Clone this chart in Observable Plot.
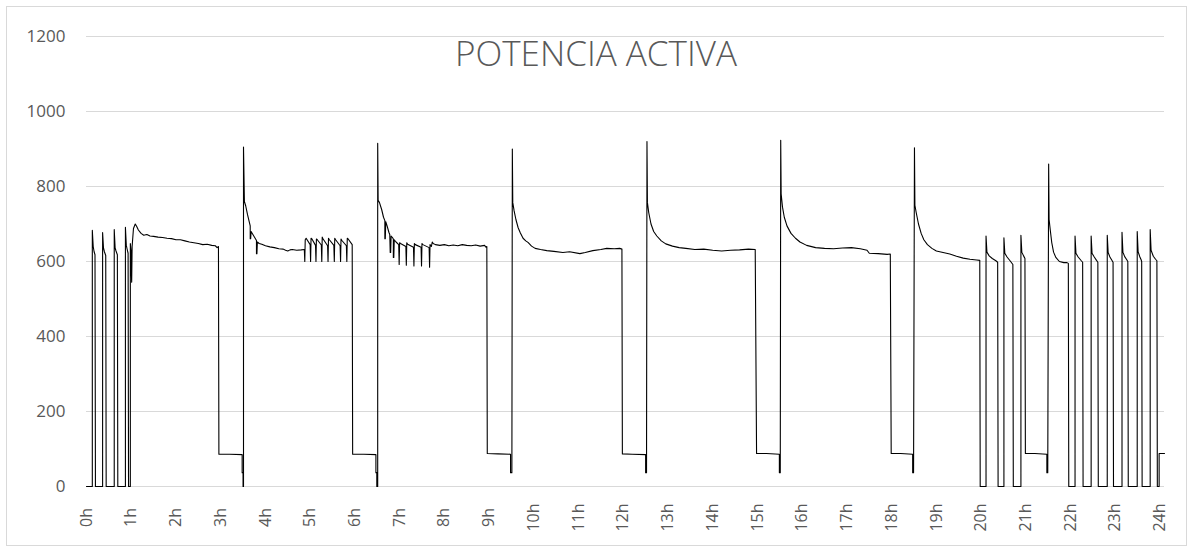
<!DOCTYPE html>
<html><head><meta charset="utf-8">
<script src="https://cdn.jsdelivr.net/npm/d3@7"></script>
<script src="https://cdn.jsdelivr.net/npm/@observablehq/plot@0.6"></script>
<style>
body{margin:0;background:#fff;}
#wrap{position:relative;width:1192px;height:551px;overflow:hidden;background:#fff;}
#border{position:absolute;left:6px;top:6px;width:1181px;height:540px;box-sizing:border-box;border:1px solid #d9d9d9;pointer-events:none;}
#title{position:absolute;left:0;top:35px;width:1192px;text-align:center;font:300 35px/35px "Open Sans";color:#595959;}
</style></head><body>
<div id="wrap"><div id="chart"></div><div id="border"></div><div id="title">POTENCIA ACTIVA</div></div>
<script>
// [hour, value] pairs, one array per cycle
const cycle00h = [[0,0],[0.13,0],[0.13,683],[0.15,640],[0.17,626],[0.19,618],[0.20,0],
  [0.36,0],[0.36,677],[0.38,636],[0.40,626],[0.43,616],[0.44,0],
  [0.62,0],[0.62,685],[0.64,636],[0.66,628],[0.69,618],[0.70,0],
  [0.87,0],[0.87,691],[0.89,643],[0.91,632],[0.93,622],[0.94,0],
  [0.98,0],[0.98,648],[0.995,629],[1.0,580],[1.01,545],[1.02,640],[1.05,688],[1.09,700],[1.12,694],[1.16,684],
  [1.22,675],[1.28,670],[1.35,672],[1.42,668],[1.5,667],[1.6,665],[1.7,664],[1.8,662],[1.9,661],[2.0,658],
  [2.1,658],[2.2,655],[2.3,652],[2.4,650],[2.5,648],[2.6,645],[2.7,646],[2.8,643],[2.88,642],[2.92,637],[2.95,640]];
const cycle03h = [[2.96,86],[3.2,86],[3.48,85],[3.48,37],[3.50,37],[3.50,0],[3.51,0],[3.51,905],
  [3.53,760],[3.56,748],[3.60,725],[3.64,705],[3.66,695],[3.66,661],[3.67,661],[3.68,680],[3.72,672],[3.76,664],
  [3.80,656],[3.80,621],[3.81,621],[3.82,652],[3.86,648],[3.92,646],[4.0,642],[4.1,639],[4.2,637],[4.3,634],
  [4.4,633],[4.45,630],[4.5,628],[4.55,631],[4.6,632],[4.7,630],[4.8,631],[4.87,632],
  [4.88,600],[4.89,658],[4.91,662],[5.0,645],[5.01,600],[5.02,662],[5.04,660],[5.12,643],[5.13,600],[5.14,660],
  [5.16,658],[5.25,644],[5.26,600],[5.27,665],[5.29,660],[5.39,642],[5.40,600],[5.41,662],[5.43,658],[5.53,643],
  [5.54,600],[5.55,662],[5.57,658],[5.67,642],[5.68,600],[5.69,660],[5.71,656],[5.81,642],[5.82,600],[5.83,662],
  [5.85,660],[5.94,645]];
const cycle06h = [[5.95,86],[6.2,86],[6.47,85],[6.47,37],[6.49,37],[6.49,0],[6.51,0],[6.51,915],
  [6.52,763],[6.55,757],[6.60,738],[6.64,718],[6.67,709],[6.67,661],[6.68,661],[6.69,706],[6.72,695],[6.76,678],
  [6.78,672],[6.79,624],[6.80,624],[6.81,668],[6.84,664],[6.86,660],[6.86,611],[6.87,611],[6.88,658],[6.92,652],
  [6.98,645],[6.99,592],[7.0,650],[7.02,648],[7.14,640],[7.15,590],[7.16,650],[7.18,646],[7.31,638],[7.32,588],
  [7.33,648],[7.35,645],[7.48,638],[7.49,588],[7.50,648],[7.52,645],[7.66,637],[7.67,585],[7.68,645],[7.71,640],
  [7.73,652],[7.75,648],[7.8,645],[7.9,643],[8.0,645],[8.1,642],[8.2,644],[8.3,642],[8.4,645],[8.5,643],
  [8.6,642],[8.7,644],[8.8,641],[8.9,643],[8.93,638],[8.95,640]];
const cycle09h = [[8.96,88],[9.2,87],[9.48,86],[9.48,37],[9.51,37],[9.52,900],
  [9.53,757],[9.56,735],[9.6,712],[9.65,690],[9.7,676],[9.76,662],[9.82,655],[9.87,651],[9.95,641],[10.03,635],
  [10.15,632],[10.29,629],[10.45,627],[10.65,624],[10.8,626],[11.03,621],[11.15,624],[11.32,629],[11.5,632],
  [11.63,635],[11.8,634],[11.92,635],[11.97,633]];
const cycle12h = [[11.98,87],[12.2,86],[12.5,85],[12.5,37],[12.52,37],[12.53,920],
  [12.54,757],[12.57,730],[12.62,700],[12.68,680],[12.75,668],[12.85,655],[12.95,647],[13.1,641],[13.25,637],
  [13.4,635],[13.6,632],[13.8,633],[14.0,630],[14.2,628],[14.4,630],[14.6,631],[14.8,633],[14.95,632]];
const cycle15h = [[14.98,88],[15.2,88],[15.49,86],[15.49,37],[15.51,37],[15.52,923],
  [15.53,780],[15.56,745],[15.6,718],[15.66,695],[15.75,675],[15.85,662],[15.95,652],[16.1,643],[16.3,637],
  [16.5,635],[16.7,634],[16.9,636],[17.1,637],[17.3,634],[17.45,630],[17.5,622],[17.7,621],[17.9,619],[17.97,620]];
const cycle18h = [[17.99,88],[18.2,88],[18.47,86],[18.47,37],[18.49,37],[18.51,903],
  [18.52,750],[18.55,730],[18.6,700],[18.66,675],[18.72,658],[18.8,645],[18.9,635],[19.0,628],[19.15,624],
  [19.3,620],[19.45,614],[19.6,609],[19.75,606],[19.9,604],[19.97,603],[19.98,0],
  [20.11,0],[20.11,668],[20.13,625],[20.18,615],[20.25,608],[20.33,602],[20.37,598],[20.38,0],
  [20.51,0],[20.51,663],[20.53,622],[20.58,612],[20.66,600],[20.71,592],[20.72,0],
  [20.89,0],[20.89,670],[20.91,625],[20.95,615],[20.98,608]];
const cycle21h = [[20.99,88],[21.2,88],[21.47,86],[21.47,37],[21.49,37],[21.51,860],
  [21.52,712],[21.55,680],[21.58,650],[21.62,625],[21.67,611],[21.75,600],[21.85,597],[21.92,597],[21.95,595],[21.96,0],
  [22.10,0],[22.10,668],[22.12,622],[22.17,612],[22.24,602],[22.27,598],[22.28,0],
  [22.46,0],[22.46,668],[22.48,622],[22.53,612],[22.58,603],[22.61,598],[22.62,0],
  [22.82,0],[22.82,670],[22.84,624],[22.88,612],[22.93,602],[22.95,598],[22.96,0],
  [23.15,0],[23.15,678],[23.17,625],[23.21,613],[23.26,604],[23.28,600],[23.29,0],
  [23.49,0],[23.49,680],[23.51,626],[23.55,612],[23.58,604],[23.59,600],[23.60,0],
  [23.78,0],[23.78,685],[23.80,630],[23.85,614],[23.90,606],[23.93,602],[23.94,0],
  [23.98,0],[23.98,88],[24.1,88]];

const xTicks = [0,1,2,3,4,5,6,7,8,9,10,11,12,13,14,15,16,17,18,19,20,21,22,23,24];
const xLabels = ["0h","1h","2h","3h","4h","5h","6h","7h","8h","9h","10h","11h","12h","13h","14h","15h","16h","17h","18h","19h","20h","21h","22h","23h","24h"];
const yTicks = [0,200,400,600,800,1000,1200];
const yLabels = ["0","200","400","600","800","1000","1200"];

const data = [cycle00h,cycle03h,cycle06h,cycle09h,cycle12h,cycle15h,cycle18h,cycle21h]
  .flat().map(([t,v]) => ({t, v}));

const chart = Plot.plot({
  width: 1192, height: 551,
  marginLeft: 86, marginRight: 28, marginTop: 36, marginBottom: 65,
  x: {domain: [0, 24.1], label: null},
  y: {domain: [0, 1200], label: null},
  style: {fontFamily: "Open Sans", fontSize: "17px", color: "#595959", background: "white"},
  marks: [
    Plot.gridY(yTicks, {stroke: "#d9d9d9", strokeOpacity: 1, strokeWidth: 1}),
    Plot.axisY(yTicks, {tickSize: 0, tickPadding: 21, fill: "#595959", fontSize: 17, label: null,
      tickFormat: d => yLabels[yTicks.indexOf(d)]}),
    Plot.axisX(xTicks, {tickSize: 0, tickRotate: -90, textAnchor: "middle", lineAnchor: "middle",
      tickPadding: 31, tickFormat: d => xLabels[xTicks.indexOf(d)], fill: "#595959", fontSize: 16, label: null}),
    Plot.line(data, {x: "t", y: "v", stroke: "#000", strokeWidth: 1.1})
  ]
});
document.getElementById("chart").appendChild(chart);
</script>
</body></html>
